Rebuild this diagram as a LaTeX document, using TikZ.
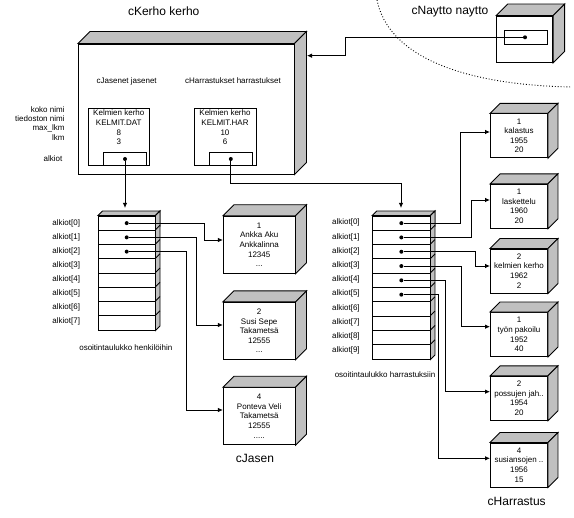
\documentclass[tikz,border=0pt]{standalone}
\usepackage{fontspec}
\setmainfont{Liberation Sans}
\usetikzlibrary{arrows.meta}
\definecolor{facegray}{HTML}{C0C0C0}
\newcommand\boxfaces[2]{%
  \filldraw[face] (#1.north west) -- ++(#2,-#2) -- ([shift={(#2,-#2)}]#1.north east) -- (#1.north east) -- cycle;
  \filldraw[face] (#1.north east) -- ++(#2,-#2) -- ([shift={(#2,-#2)}]#1.south east) -- (#1.south east) -- cycle;}
\begin{document}
\begin{tikzpicture}[x=1pt,y=-1pt,line width=0.9pt,
  face/.style={fill=facegray,draw=black},
  lbl/.style={font=\fontsize{8}{9.5}\selectfont,inner sep=0pt},
  ttl/.style={font=\fontsize{12}{14}\selectfont,inner sep=0pt},
  frontbox/.style={draw,fill=white,inner sep=0pt,align=center,font=\fontsize{8}{9.6}\selectfont},
  cellbox/.style={draw,fill=white,inner sep=0pt,minimum height=14.25pt},
  ptr/.style={circle,fill=black,inner sep=0pt,minimum size=4pt},
  arr/.style={-{Latex[length=5pt,width=4.5pt]}}]
\useasboundingbox (0,0) rectangle (574,518);

% dotted boundary
\draw[dotted] (377,0) .. controls (388,55) and (460,85) .. (572,87);

% cKerho
\node[ttl] (tkerho) at (163.7,11) {cKerho kerho};
\node[frontbox,minimum width=215.7pt,minimum height=130pt] (kerho) at (186.15,109) {};
\boxfaces{kerho}{12}
\node[lbl] (ljas) at (126.7,81) {cJasenet jasenet};
\node[lbl] (lhar) at (233,81) {cHarrastukset harrastukset};
\node[frontbox,minimum width=61pt,minimum height=57.4pt] (kjbox) at (118.8,137) {};
\node[lbl,align=center,font=\fontsize{8}{9.7}\selectfont] (kjtext) at (118.8,127.5) {Kelmien kerho\\KELMIT.DAT\\8\\3};
\node[cellbox,minimum width=43.4pt,minimum height=13.4pt] (kjcell) at (125,159) {};
\node[ptr] (kjd) at (kjcell.center) {};
\node[frontbox,minimum width=62pt,minimum height=57.4pt] (khbox) at (225,137) {};
\node[lbl,align=center,font=\fontsize{8}{9.7}\selectfont] (khtext) at (225,127.5) {Kelmien kerho\\KELMIT.HAR\\10\\6};
\node[cellbox,minimum width=43pt,minimum height=13.4pt] (khcell) at (230.8,159) {};
\node[ptr] (khd) at (khcell.center) {};

\node[lbl,anchor=east] (lkoko) at (65,110) {koko nimi};
\node[lbl,anchor=east] (ltied) at (65,119) {tiedoston nimi};
\node[lbl,anchor=east] (lmax) at (65,128.3) {max\_lkm};
\node[lbl,anchor=east] (llkm) at (65,137.7) {lkm};
\node[lbl,anchor=east] (lalk) at (62.7,158.3) {alkiot};

% cNaytto
\node[ttl] (tnaytto) at (450,11.7) {cNaytto naytto};
\node[frontbox,minimum width=56pt,minimum height=46.3pt] (naytto) at (524.7,39.15) {};
\boxfaces{naytto}{11.5}
\node[cellbox,minimum width=43.4pt,minimum height=14.3pt] (ncell) at (526,37.15) {};
\node[ptr] (nd) at (525,37.3) {};

% left array
\foreach \i in {0,...,7}
  \node[cellbox,minimum width=56.7pt] (ja\i) at (126.7,{223.125+14.25*\i}) {};
\boxfaces{ja0}{4.5}
\filldraw[face] (ja0.north east) -- ++(4.5,-4.5) -- ([shift={(4.5,-4.5)}]ja7.south east) -- (ja7.south east) -- cycle;
\foreach \i in {1,...,7} \draw (ja\i.north east) -- ++(4.5,-4.5);
\foreach \i in {0,...,7}
  \node[lbl,anchor=west] (lja\i) at (52,{223.3+14.0*\i}) {alkiot[\i]};
\foreach \i in {0,1,2} \node[ptr] (jd\i) at (ja\i.center) {};
\node[lbl] (ljosoit) at (125.8,347.3) {osoitintaulukko henkilöihin};

% right array
\foreach \i in {0,...,9}
  \node[cellbox,minimum width=57.3pt,minimum height=14.3pt] (ha\i) at (401.35,{223.15+14.3*\i}) {};
\boxfaces{ha0}{4.5}
\filldraw[face] (ha0.north east) -- ++(4.5,-4.5) -- ([shift={(4.5,-4.5)}]ha9.south east) -- (ha9.south east) -- cycle;
\foreach \i in {1,...,9} \draw (ha\i.north east) -- ++(4.5,-4.5);
\foreach \i in {0,...,9}
  \node[lbl,anchor=west] (lha\i) at (331.7,{222.9+14.2*\i}) {alkiot[\i]};
\foreach \i in {0,...,5} \node[ptr] (hd\i) at (ha\i.center) {};
\node[lbl] (lhosoit) at (385,375) {osoitintaulukko harrastuksiin};

% cJasen boxes
\node[frontbox,minimum width=71.7pt,minimum height=57pt] (j1) at (259.2,244.7) {1\\Ankka Aku\\Ankkalinna\\12345\\...};
\boxfaces{j1}{11}
\node[frontbox,minimum width=71.7pt,minimum height=57pt] (j2) at (259.2,330.9) {2\\Susi Sepe\\Takametsä\\12555\\...};
\boxfaces{j2}{11}
\node[frontbox,minimum width=71.7pt,minimum height=57pt] (j3) at (259.2,416.2) {4\\Ponteva Veli\\Takametsä\\12555\\.....};
\boxfaces{j3}{11}
\node[ttl] (tjasen) at (255,458.3) {cJasen};

% cHarrastus boxes
\node[frontbox,minimum width=57pt,minimum height=44pt] (h1) at (519,135.8) {1\\kalastus\\1955\\20};
\boxfaces{h1}{10}
\node[frontbox,minimum width=57pt,minimum height=44pt] (h2) at (519,206.3) {1\\laskettelu\\1960\\20};
\boxfaces{h2}{10}
\node[frontbox,minimum width=57pt,minimum height=44pt] (h3) at (519,271) {2\\kelmien kerho\\1962\\2};
\boxfaces{h3}{10}
\node[frontbox,minimum width=57pt,minimum height=44pt] (h4) at (519,334.5) {1\\työn pakoilu\\1952\\40};
\boxfaces{h4}{10}
\node[frontbox,minimum width=57pt,minimum height=44pt] (h5) at (519,398.3) {2\\possujen jah..\\1954\\20};
\boxfaces{h5}{10}
\node[frontbox,minimum width=57pt,minimum height=44pt] (h6) at (519,465) {4\\susiansojen ..\\1956\\15};
\boxfaces{h6}{10}
\node[ttl] (tharr) at (516.7,501.7) {cHarrastus};

% connectors
\coordinate (jatop) at (125,208);
\draw[arr] (kjd) -- (jatop);
\coordinate (hbend) at (401,183.3);
\coordinate (hatop) at (401,208);
\draw[arr] (khd) |- (hbend) -- (hatop);
\coordinate (kbend) at (345,55.7);
\coordinate (kin) at (307,55.7);
\draw[arr] (nd) -| (kbend) -- (kin);

\draw[arr] (jd0) -| ([xshift=-18.3pt,yshift=4.7pt]j1.west) -- ([yshift=4.7pt]j1.west);
\draw[arr] (jd1) -| ([xshift=-26.6pt,yshift=5.9pt]j2.west) -- ([yshift=5.9pt]j2.west);
\draw[arr] (jd2) -| ([xshift=-36.6pt,yshift=6.2pt]j3.west) -- ([yshift=6.2pt]j3.west);

\draw[arr] (hd0) -| ([xshift=-29.7pt,yshift=3.8pt]h1.west) -- ([yshift=3.8pt]h1.west);
\draw[arr] (hd1) -| ([xshift=-18.4pt,yshift=6.3pt]h2.west) -- ([yshift=6.3pt]h2.west);
\draw[arr] (hd2) -| ([xshift=-14.7pt,yshift=5pt]h3.west) -- ([yshift=5pt]h3.west);
\draw[arr] (hd3) -| ([xshift=-29pt,yshift=7.8pt]h4.west) -- ([yshift=7.8pt]h4.west);
\draw[arr] (hd4) -| ([xshift=-44.7pt,yshift=6.6pt]h5.west) -- ([yshift=6.6pt]h5.west);
\draw[arr] (hd5) -| ([xshift=-51.7pt,yshift=6.7pt]h6.west) -- ([yshift=6.7pt]h6.west);
\end{tikzpicture}
\end{document}
